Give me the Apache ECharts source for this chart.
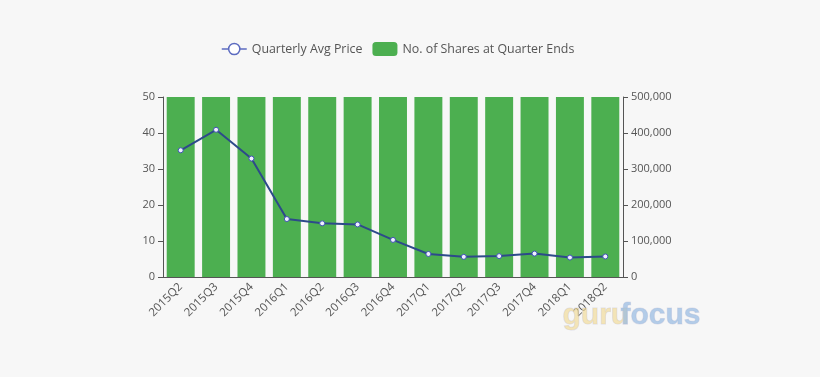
<!DOCTYPE html>
<html><head><meta charset="utf-8">
<script src="https://cdn.jsdelivr.net/npm/echarts@6/dist/echarts.min.js"></script>
<style>html,body{margin:0;padding:0;background:#f7f7f7}#c{width:820px;height:377px}</style>
</head><body><div id="c"></div>
<script>
const categories = ['2015Q2','2015Q3','2015Q4','2016Q1','2016Q2','2016Q3','2016Q4','2017Q1','2017Q2','2017Q3','2017Q4','2018Q1','2018Q2'];
const avgPrice = [35.2, 40.9, 32.9, 16.1, 14.9, 14.6, 10.3, 6.4, 5.6, 5.8, 6.5, 5.4, 5.7];
const sharesAtQuarterEnd = [1200000, 1200000, 1200000, 1200000, 1200000, 1200000, 1200000, 1200000, 1200000, 1200000, 1200000, 1200000, 1200000];
const leftTicks = {min: 0, max: 50, interval: 10};
const rightTicks = {min: 0, max: 500000, interval: 100000};

const chart = echarts.init(document.getElementById('c'));
const font = '"Open Sans", "Noto Sans", sans-serif';
chart.setOption({
  backgroundColor: '#f7f7f7',
  textStyle: {fontFamily: font},
  legend: {
    top: 37, left: 216, itemGap: 10, itemWidth: 25, itemHeight: 14,
    textStyle: {color: '#555', fontSize: 12.4, fontFamily: font},
    data: [
      {name: 'Quarterly Avg Price',
       itemStyle: {color: '#ffffff', borderColor: '#5c6bc0', borderWidth: 1.5},
       lineStyle: {color: '#5c6bc0', width: 1.5}},
      {name: 'No. of Shares at Quarter Ends'}
    ]
  },
  grid: {left: 163, right: 197, top: 97, bottom: 100, containLabel: false},
  xAxis: {
    type: 'category', data: categories,
    axisLine: {lineStyle: {color: '#555'}},
    axisTick: {lineStyle: {color: '#555'}},
    axisLabel: {rotate: 45, color: '#555', fontSize: 11.5, interval: 0, margin: 8}
  },
  yAxis: [
    {type: 'value', min: leftTicks.min, max: leftTicks.max, interval: leftTicks.interval,
     axisLine: {show: true, lineStyle: {color: '#555'}}, axisTick: {show: true},
     splitLine: {show: false}, axisLabel: {color: '#555', fontSize: 11}},
    {type: 'value', min: rightTicks.min, max: rightTicks.max, interval: rightTicks.interval,
     axisLine: {show: true, lineStyle: {color: '#555'}}, axisTick: {show: true},
     splitLine: {show: false}, axisLabel: {color: '#555', fontSize: 11,
       formatter: v => v.toLocaleString('en-US')}}
  ],
  series: [
    {name: 'No. of Shares at Quarter Ends', type: 'bar', yAxisIndex: 1, data: sharesAtQuarterEnd,
     itemStyle: {color: '#4caf50'}, barCategoryGap: '21%', clip: true, z: 1},
    {name: 'Quarterly Avg Price', type: 'line', yAxisIndex: 0, data: avgPrice,
     symbol: 'circle', symbolSize: 5, legendIcon: 'emptyCircle',
     itemStyle: {color: '#f0f0ff', borderColor: '#3f51b5', borderWidth: 1},
     lineStyle: {color: '#2d4a8a', width: 2}, z: 3}
  ],
  graphic: [
    {type: 'text', left: 562, top: 300, z: 10,
     style: {text: 'guru', font: 'bold 30px "Liberation Sans Narrow", "Liberation Sans", sans-serif',
       fill: 'rgba(240,215,140,0.6)', stroke: 'rgba(200,200,220,0.5)', lineWidth: 1}},
    {type: 'text', left: 620, top: 300, z: 10,
     style: {text: 'focus', font: 'bold 30px "Liberation Sans Narrow", "Liberation Sans", sans-serif',
       fill: 'rgba(150,185,225,0.7)', stroke: 'rgba(200,200,220,0.5)', lineWidth: 1}}
  ]
});
</script></body></html>
